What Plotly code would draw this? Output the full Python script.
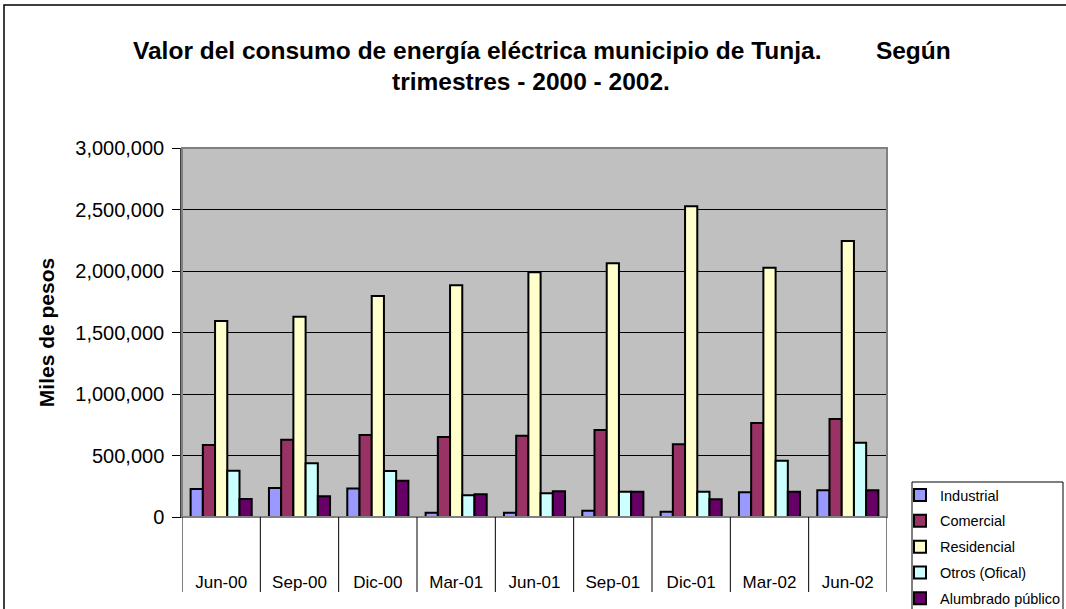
import plotly.graph_objects as go

categories = ["Jun-00", "Sep-00", "Dic-00", "Mar-01", "Jun-01", "Sep-01", "Dic-01", "Mar-02", "Jun-02"]
industrial = [228000, 236000, 232000, 35000, 35000, 51000, 43000, 201000, 217000]
comercial = [585000, 629000, 667000, 650000, 661000, 707000, 591000, 764000, 797000]
residencial = [1593000, 1629000, 1797000, 1884000, 1989000, 2062000, 2526000, 2027000, 2244000]
otros = [376000, 436000, 374000, 176000, 193000, 206000, 206000, 458000, 604000]
alumbrado = [146000, 168000, 295000, 184000, 209000, 206000, 144000, 206000, 217000]

series_names = ["Industrial", "Comercial", "Residencial", "Otros (Ofical)", "Alumbrado público"]
series_values = [industrial, comercial, residencial, otros, alumbrado]
series_colors = ["#9999FF", "#993366", "#FFFFCC", "#CCFFFF", "#660066"]

title_line1 = "Valor del consumo de energía eléctrica municipio de Tunja." + "\u00a0" * 8 + "Según"
title_line2 = "trimestres - 2000 - 2002."
y_title = "Miles de pesos"

FONT = "Arial, Liberation Sans, sans-serif"

# layout geometry (pixels)
W, H = 1066, 609
L, R, T, B = 182, 887, 148, 517
pw, ph = R - L, B - T

def px_x(x):
    return (x - L) / pw

def px_y(y):
    return (B - y) / ph

fig = go.Figure()
for i, (name, vals, col) in enumerate(zip(series_names, series_values, series_colors)):
    fig.add_trace(go.Bar(
        x=categories, y=vals, name=name, legendgroup=f"g{i}",
        marker=dict(color=col, line=dict(color="black", width=2)),
    ))

shapes = []
# outer chart border
shapes.append(dict(type="rect", xref="paper", yref="paper",
                   x0=px_x(4), x1=px_x(1075), y0=px_y(620), y1=px_y(5),
                   line=dict(color="black", width=1.5), fillcolor="rgba(0,0,0,0)", layer="below"))
# plot area grey border (top/right)
shapes.append(dict(type="rect", xref="paper", yref="paper", x0=0, x1=1, y0=0, y1=1,
                   line=dict(color="#808080", width=2), fillcolor="rgba(0,0,0,0)", layer="above"))
# category divider lines under the axis
n = len(categories)
for k in range(n + 1):
    shapes.append(dict(type="line", xref="x", yref="paper", x0=k - 0.5, x1=k - 0.5,
                       y0=0, y1=-(592 - B) / ph, line=dict(color="black", width=1)))
# legend box
shapes.append(dict(type="rect", xref="paper", yref="paper",
                   x0=px_x(912), x1=px_x(1063), y0=px_y(625), y1=px_y(482),
                   line=dict(color="black", width=1), fillcolor="white", layer="above"))

annotations = [
    dict(text="<b>" + title_line1 + "</b>", xref="paper", yref="paper",
         x=px_x(542), y=px_y(50), xanchor="center", yanchor="middle", showarrow=False,
         font=dict(family=FONT, size=24.5, color="black")),
    dict(text="<b>" + title_line2 + "</b>", xref="paper", yref="paper",
         x=px_x(531), y=px_y(82), xanchor="center", yanchor="middle", showarrow=False,
         font=dict(family=FONT, size=24.5, color="black")),
]

fig.update_layout(
    width=W, height=H,
    margin=dict(l=L, r=W - R, t=T, b=H - B, autoexpand=False),
    paper_bgcolor="white", plot_bgcolor="#C0C0C0",
    barmode="group", bargap=0.22, bargroupgap=0,
    font=dict(family=FONT, color="black"),
    showlegend=True,
    legend=dict(x=px_x(900), y=px_y(479), xanchor="left", yanchor="top",
                bgcolor="rgba(0,0,0,0)", borderwidth=0,
                font=dict(family=FONT, size=14.5, color="black"),
                traceorder="grouped", tracegroupgap=4.0),
    shapes=shapes, annotations=annotations,
)
fig.update_xaxes(type="category", range=[-0.5, n - 0.5], showline=True, linecolor="black",
                 linewidth=1, ticks="", showgrid=False, ticklabelstandoff=50,
                 tickfont=dict(family=FONT, size=17, color="black"), automargin=False)
fig.update_yaxes(range=[0, 3000000], dtick=500000, tickformat=",", showline=True,
                 linecolor="#404040", linewidth=1.5, ticks="outside", ticklen=8,
                 tickcolor="black", showgrid=True, gridcolor="black", gridwidth=1,
                 zeroline=False, ticklabelstandoff=4,
                 tickfont=dict(family=FONT, size=20, color="black"),
                 title=dict(text="<b>" + y_title + "</b>", standoff=15,
                            font=dict(family=FONT, size=21, color="black")),
                 automargin=False)

fig.write_html("out.html", config={"displayModeBar": False},
               post_script="document.body.style.margin='0';")
